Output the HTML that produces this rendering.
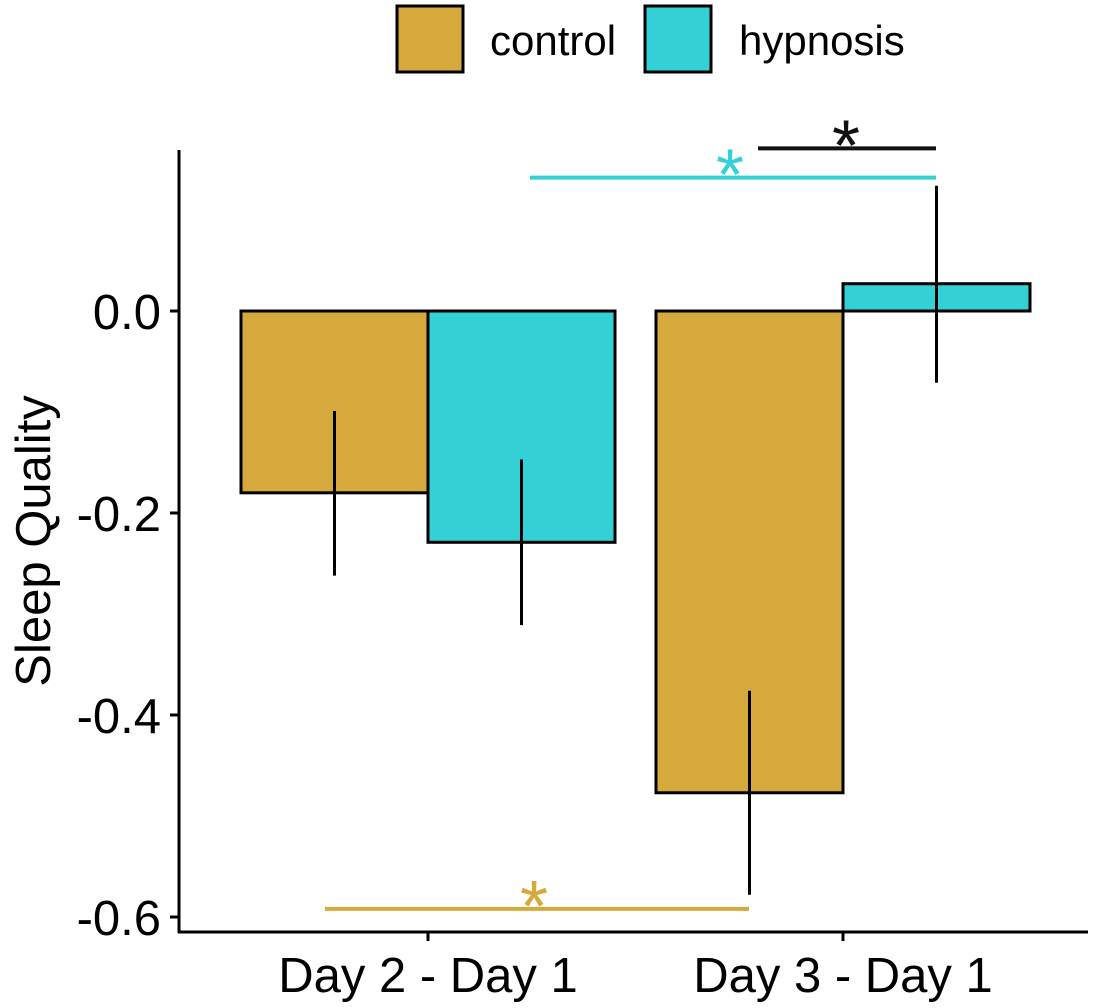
<!DOCTYPE html>
<html><head><meta charset="utf-8"><style>
html,body{margin:0;padding:0;background:#fff;}
svg{display:block;font-family:"Liberation Sans",Arial,sans-serif;}
</style></head><body>
<svg id="chart" width="1096" height="1008" viewBox="0 0 1096 1008">
<g id="marks"></g>
<g id="axes"></g>
</svg>
<script>
const categories = ["Day 2 - Day 1", "Day 3 - Day 1"];
const groups = ["control", "hypnosis"];
const controlValues = [-0.180, -0.477];
const hypnosisValues = [-0.229, 0.027];
const controlLow = [-0.262, -0.578];
const controlHigh = [-0.099, -0.376];
const hypnosisLow = [-0.311, -0.071];
const hypnosisHigh = [-0.147, 0.124];
const yTicks = [0.0, -0.2, -0.4, -0.6];
const yTickLabels = ["0.0", "-0.2", "-0.4", "-0.6"];
const sigLevels = [0.161, 0.132, -0.592];

const NS = "http://www.w3.org/2000/svg";
const colors = {control: "#D6A93C", hypnosis: "#33D0D6"};
function y(v){ return 311 - v * 1010; }
function xCenter(i){ return 428 + i * 415; }
const barW = 187;

function mk(tag, attrs, parent, text){
  const el = document.createElementNS(NS, tag);
  for (const k in attrs) el.setAttribute(k, attrs[k]);
  if (text !== undefined) el.textContent = text;
  parent.appendChild(el);
  return el;
}
const marks = document.getElementById("marks");
const axes = document.getElementById("axes");

categories.forEach((c, i) => {
  const xc = xCenter(i);
  [["control", controlValues, controlLow, controlHigh, -1], ["hypnosis", hypnosisValues, hypnosisLow, hypnosisHigh, 0]].forEach(([g, vals, lo, hi, off]) => {
    const x0 = xc + off * barW;
    const top = Math.min(y(0), y(vals[i])), h = Math.abs(y(vals[i]) - y(0));
    const r = mk("rect", {x: x0, y: top, width: barW, height: h, fill: colors[g], stroke: "#000", "stroke-width": 3}, marks);
    
    
    const e = mk("line", {x1: x0 + barW / 2, x2: x0 + barW / 2, y1: y(lo[i]), y2: y(hi[i]), stroke: "#000", "stroke-width": 3}, marks);
    
    
  });
});

// axes
mk("line", {x1: 179, x2: 179, y1: 150, y2: 933, stroke: "#000", "stroke-width": 3}, axes);
mk("line", {x1: 178, x2: 1088, y1: 932, y2: 932, stroke: "#000", "stroke-width": 3}, axes);
yTicks.forEach((t, i) => {
  const l = mk("line", {x1: 170, x2: 179, y1: y(t), y2: y(t), stroke: "#000", "stroke-width": 3}, axes);
  
  
  const tx = mk("text", {x: 161, y: y(t) + 18, "text-anchor": "end", "font-size": 49}, axes, yTickLabels[i]);
  
  
});
categories.forEach((c, i) => {
  const l = mk("line", {x1: xCenter(i), x2: xCenter(i), y1: 932, y2: 941, stroke: "#000", "stroke-width": 3}, axes);
  
  
  const tx = mk("text", {x: xCenter(i), y: 992, "text-anchor": "middle", "font-size": 49}, axes, c);
  
  
});
const yt = mk("text", {x: 0, y: 0, transform: "translate(50,541) rotate(-90)", "text-anchor": "middle", "font-size": 49}, axes, "Sleep Quality");



// significance markers
const sig = [
  {x1: 758, x2: 936, lv: sigLevels[0], ax: 846, col: "#111", name: "sig-hypnosis-vs-control-day3"},
  {x1: 530, x2: 936, lv: sigLevels[1], ax: 730, col: colors.hypnosis, name: "sig-hypnosis-day3-vs-day2"},
  {x1: 325, x2: 749, lv: sigLevels[2], ax: 534, col: colors.control, name: "sig-control-day3-vs-day2"}
];
sig.forEach(s => {
  const l = mk("line", {x1: s.x1, x2: s.x2, y1: y(s.lv), y2: y(s.lv), stroke: s.col, "stroke-width": 4}, axes);
  
  
  const a = mk("text", {x: s.ax, y: y(s.lv) + 22, "text-anchor": "middle", "font-size": 72, fill: s.col}, axes, "*");
  
  
});

// legend
const leg = mk("g", {}, axes);


[[397, 490, "control"], [645, 739, "hypnosis"]].forEach(([bx, tx, g]) => {
  const r = mk("rect", {x: bx, y: 6, width: 66, height: 66, fill: colors[g], stroke: "#000", "stroke-width": 3}, leg);
  
  
  const t = mk("text", {x: tx, y: 55, "font-size": 42}, leg, g);
  
  
});
</script>
</body></html>
